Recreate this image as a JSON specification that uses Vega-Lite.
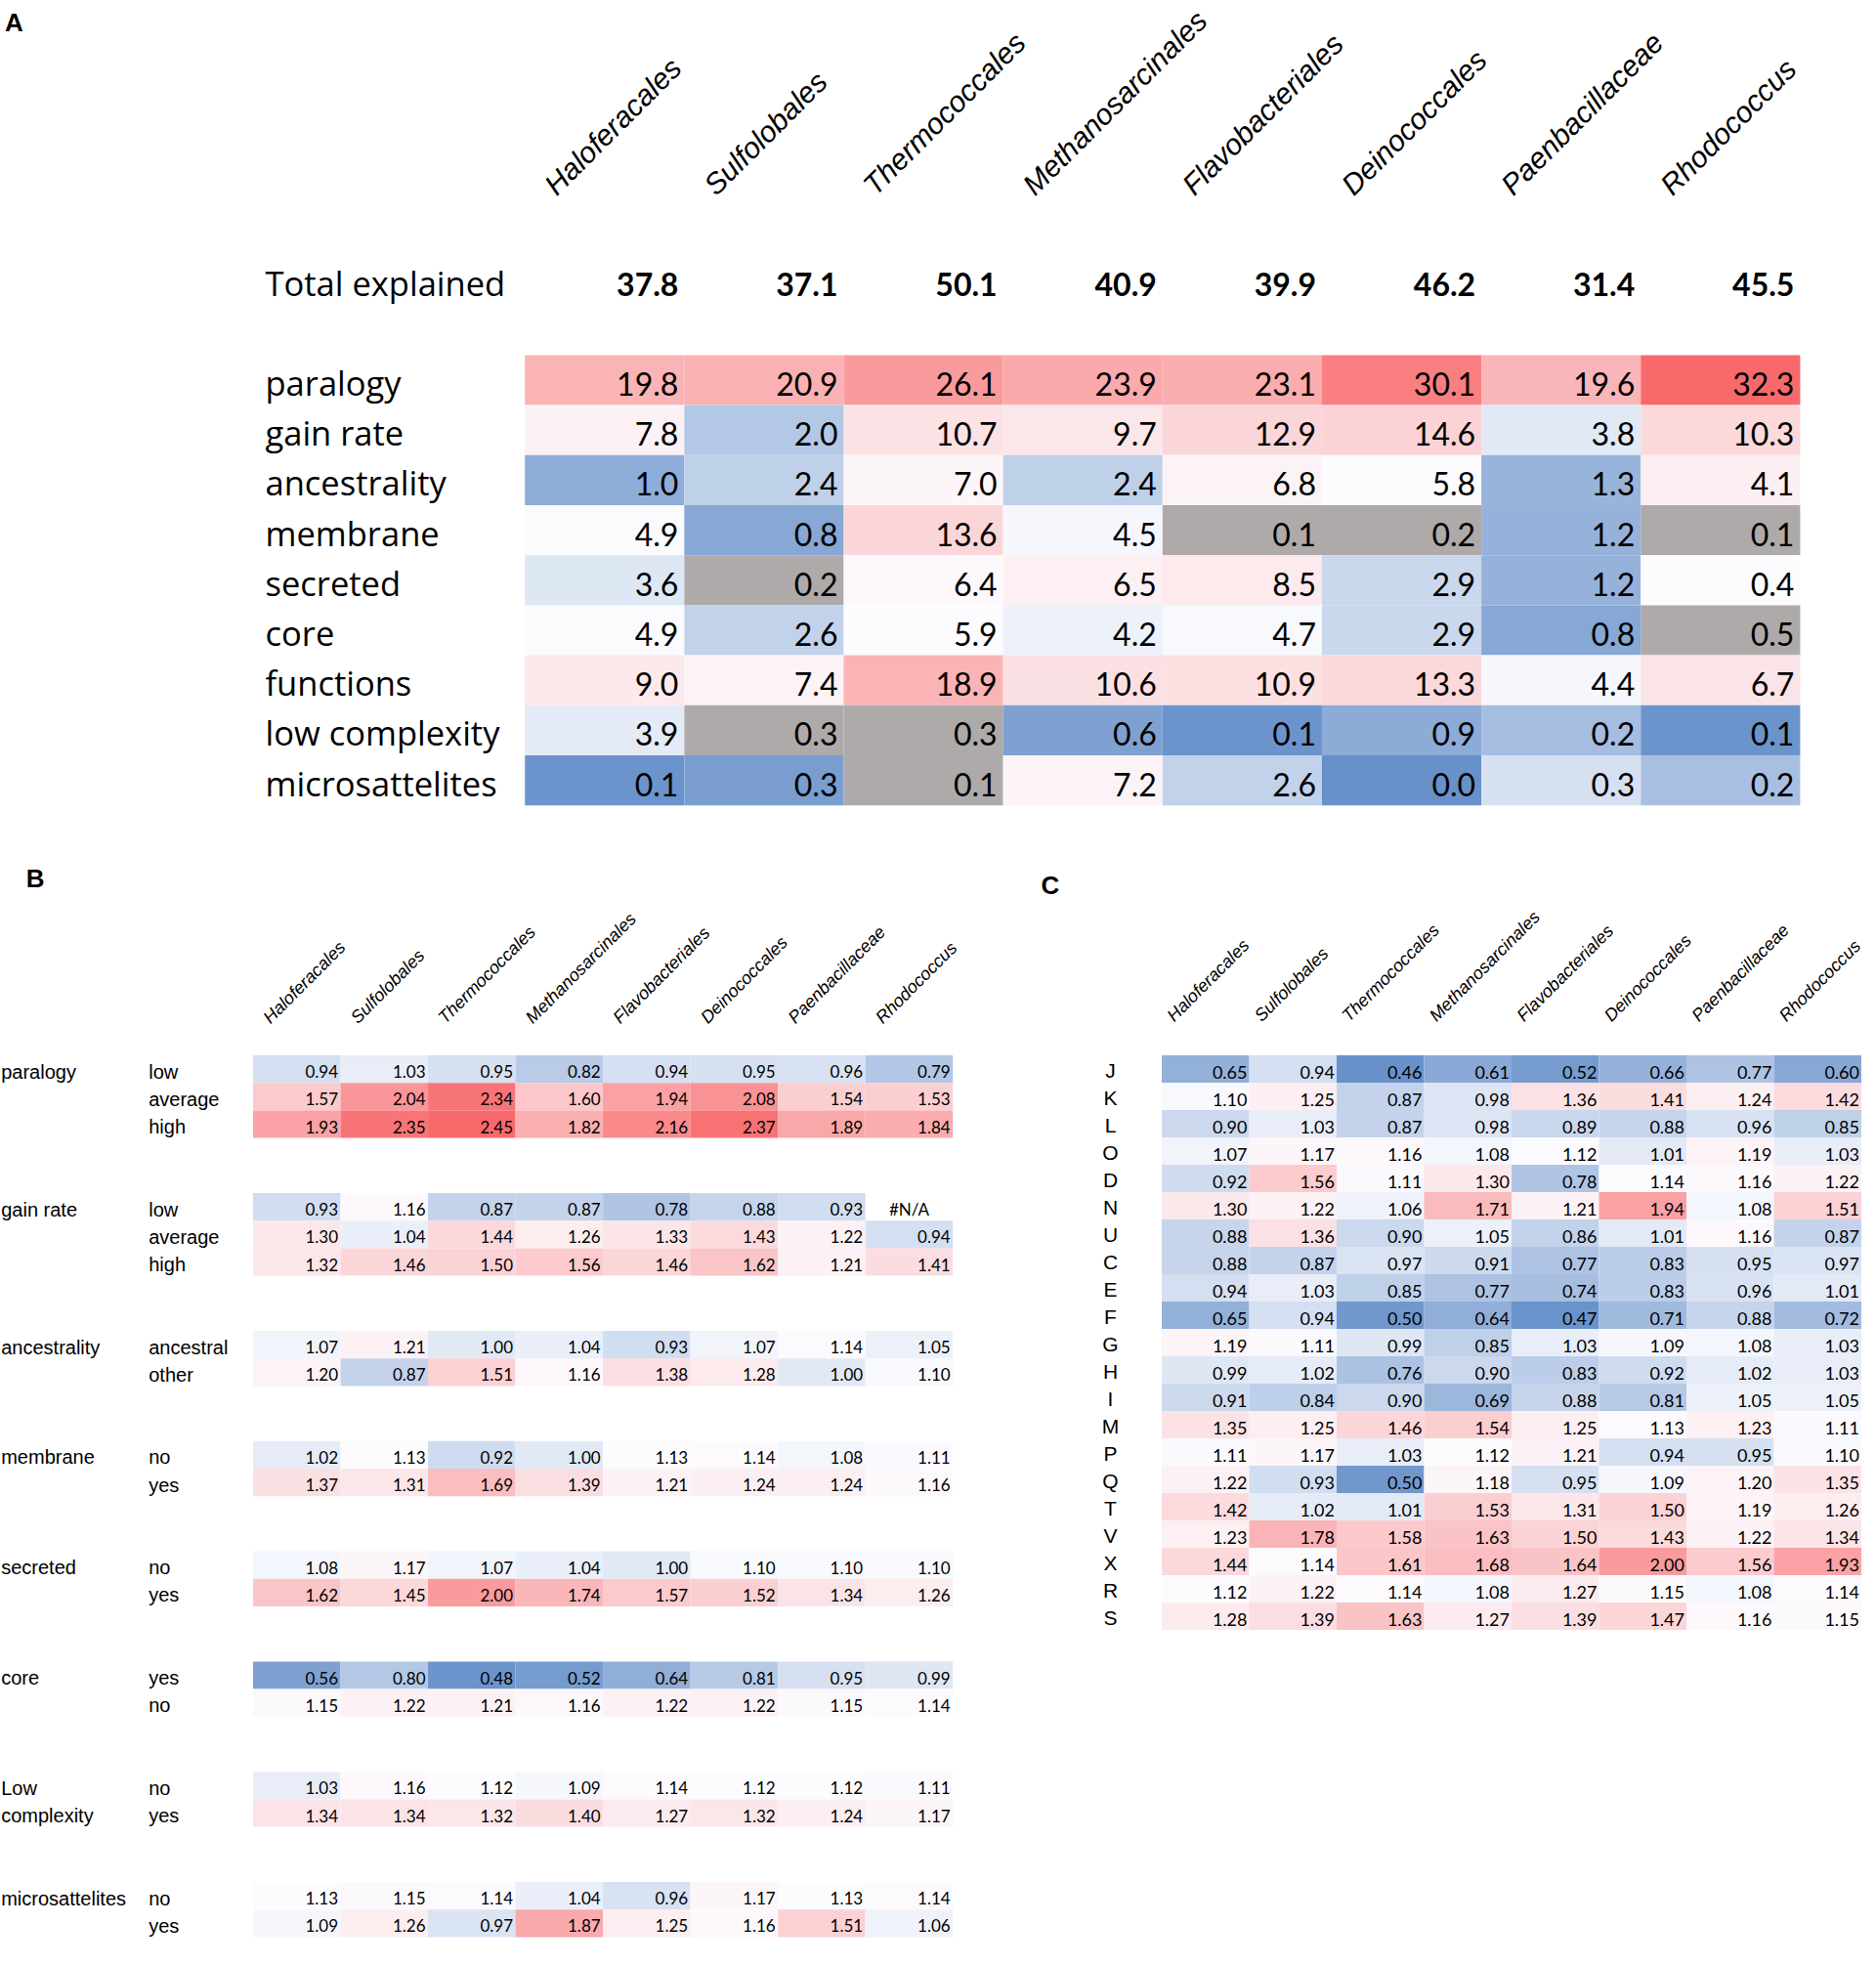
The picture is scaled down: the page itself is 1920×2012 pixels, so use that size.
{
"$schema":"https://vega.github.io/schema/vega-lite/v6.json",
"background":"white",
"padding":{"left":0,"top":5,"right":0,"bottom":0},
"spacing":61,
"resolve":{"scale":{"color":"independent"}},
"config":{"view":{"stroke":null},"axis":{"domain":false,"ticks":false,"grid":false,"labelColor":"#000000","titleColor":"#000000"}},
"datasets":{
"a":[
{"r":"Total explained","k":"Haloferacales","v":37.8,"c":0,"g":0},{"r":"Total explained","k":"Sulfolobales","v":37.1,"c":0,"g":0},{"r":"Total explained","k":"Thermococcales","v":50.1,"c":0,"g":0},{"r":"Total explained","k":"Methanosarcinales","v":40.9,"c":0,"g":0},{"r":"Total explained","k":"Flavobacteriales","v":39.9,"c":0,"g":0},{"r":"Total explained","k":"Deinococcales","v":46.2,"c":0,"g":0},{"r":"Total explained","k":"Paenbacillaceae","v":31.4,"c":0,"g":0},{"r":"Total explained","k":"Rhodococcus","v":45.5,"c":0,"g":0},
{"r":"paralogy","k":"Haloferacales","v":19.8,"c":0.49,"g":0},{"r":"paralogy","k":"Sulfolobales","v":20.9,"c":0.51,"g":0},{"r":"paralogy","k":"Thermococcales","v":26.1,"c":0.66,"g":0},{"r":"paralogy","k":"Methanosarcinales","v":23.9,"c":0.56,"g":0},{"r":"paralogy","k":"Flavobacteriales","v":23.1,"c":0.54,"g":0},{"r":"paralogy","k":"Deinococcales","v":30.1,"c":0.85,"g":0},{"r":"paralogy","k":"Paenbacillaceae","v":19.6,"c":0.48,"g":0},{"r":"paralogy","k":"Rhodococcus","v":32.3,"c":1,"g":0},
{"r":"gain rate","k":"Haloferacales","v":7.8,"c":0.07,"g":0},{"r":"gain rate","k":"Sulfolobales","v":2.0,"c":-0.49,"g":0},{"r":"gain rate","k":"Thermococcales","v":10.7,"c":0.18,"g":0},{"r":"gain rate","k":"Methanosarcinales","v":9.7,"c":0.15,"g":0},{"r":"gain rate","k":"Flavobacteriales","v":12.9,"c":0.26,"g":0},{"r":"gain rate","k":"Deinococcales","v":14.6,"c":0.28,"g":0},{"r":"gain rate","k":"Paenbacillaceae","v":3.8,"c":-0.18,"g":0},{"r":"gain rate","k":"Rhodococcus","v":10.3,"c":0.24,"g":0},
{"r":"ancestrality","k":"Haloferacales","v":1.0,"c":-0.74,"g":0},{"r":"ancestrality","k":"Sulfolobales","v":2.4,"c":-0.41,"g":0},{"r":"ancestrality","k":"Thermococcales","v":7.0,"c":0.04,"g":0},{"r":"ancestrality","k":"Methanosarcinales","v":2.4,"c":-0.41,"g":0},{"r":"ancestrality","k":"Flavobacteriales","v":6.8,"c":0.06,"g":0},{"r":"ancestrality","k":"Deinococcales","v":5.8,"c":0.01,"g":0},{"r":"ancestrality","k":"Paenbacillaceae","v":1.3,"c":-0.67,"g":0},{"r":"ancestrality","k":"Rhodococcus","v":4.1,"c":0.09,"g":0},
{"r":"membrane","k":"Haloferacales","v":4.9,"c":-0.01,"g":0},{"r":"membrane","k":"Sulfolobales","v":0.8,"c":-0.79,"g":0},{"r":"membrane","k":"Thermococcales","v":13.6,"c":0.26,"g":0},{"r":"membrane","k":"Methanosarcinales","v":4.5,"c":-0.05,"g":0},{"r":"membrane","k":"Flavobacteriales","v":0.1,"c":0,"g":1},{"r":"membrane","k":"Deinococcales","v":0.2,"c":0,"g":1},{"r":"membrane","k":"Paenbacillaceae","v":1.2,"c":-0.69,"g":0},{"r":"membrane","k":"Rhodococcus","v":0.1,"c":0,"g":1},
{"r":"secreted","k":"Haloferacales","v":3.6,"c":-0.2,"g":0},{"r":"secreted","k":"Sulfolobales","v":0.2,"c":0,"g":1},{"r":"secreted","k":"Thermococcales","v":6.4,"c":0.03,"g":0},{"r":"secreted","k":"Methanosarcinales","v":6.5,"c":0.08,"g":0},{"r":"secreted","k":"Flavobacteriales","v":8.5,"c":0.12,"g":0},{"r":"secreted","k":"Deinococcales","v":2.9,"c":-0.34,"g":0},{"r":"secreted","k":"Paenbacillaceae","v":1.2,"c":-0.69,"g":0},{"r":"secreted","k":"Rhodococcus","v":0.4,"c":0,"g":0},
{"r":"core","k":"Haloferacales","v":4.9,"c":-0.01,"g":0},{"r":"core","k":"Sulfolobales","v":2.6,"c":-0.39,"g":0},{"r":"core","k":"Thermococcales","v":5.9,"c":0.01,"g":0},{"r":"core","k":"Methanosarcinales","v":4.2,"c":-0.1,"g":0},{"r":"core","k":"Flavobacteriales","v":4.7,"c":-0.03,"g":0},{"r":"core","k":"Deinococcales","v":2.9,"c":-0.34,"g":0},{"r":"core","k":"Paenbacillaceae","v":0.8,"c":-0.79,"g":0},{"r":"core","k":"Rhodococcus","v":0.5,"c":0,"g":1},
{"r":"functions","k":"Haloferacales","v":9.0,"c":0.13,"g":0},{"r":"functions","k":"Sulfolobales","v":7.4,"c":0.06,"g":0},{"r":"functions","k":"Thermococcales","v":18.9,"c":0.49,"g":0},{"r":"functions","k":"Methanosarcinales","v":10.6,"c":0.19,"g":0},{"r":"functions","k":"Flavobacteriales","v":10.9,"c":0.2,"g":0},{"r":"functions","k":"Deinococcales","v":13.3,"c":0.24,"g":0},{"r":"functions","k":"Paenbacillaceae","v":4.4,"c":-0.05,"g":0},{"r":"functions","k":"Rhodococcus","v":6.7,"c":0.16,"g":0},
{"r":"low complexity","k":"Haloferacales","v":3.9,"c":-0.16,"g":0},{"r":"low complexity","k":"Sulfolobales","v":0.3,"c":0,"g":1},{"r":"low complexity","k":"Thermococcales","v":0.3,"c":0,"g":1},{"r":"low complexity","k":"Methanosarcinales","v":0.6,"c":-0.85,"g":0},{"r":"low complexity","k":"Flavobacteriales","v":0.1,"c":-0.97,"g":0},{"r":"low complexity","k":"Deinococcales","v":0.9,"c":-0.76,"g":0},{"r":"low complexity","k":"Paenbacillaceae","v":0.2,"c":-0.59,"g":0},{"r":"low complexity","k":"Rhodococcus","v":0.1,"c":-0.97,"g":0},
{"r":"microsattelites","k":"Haloferacales","v":0.1,"c":-0.97,"g":0},{"r":"microsattelites","k":"Sulfolobales","v":0.3,"c":-0.88,"g":0},{"r":"microsattelites","k":"Thermococcales","v":0.1,"c":0,"g":1},{"r":"microsattelites","k":"Methanosarcinales","v":7.2,"c":0.06,"g":0},{"r":"microsattelites","k":"Flavobacteriales","v":2.6,"c":-0.39,"g":0},{"r":"microsattelites","k":"Deinococcales","v":0.0,"c":-1,"g":0},{"r":"microsattelites","k":"Paenbacillaceae","v":0.3,"c":-0.26,"g":0},{"r":"microsattelites","k":"Rhodococcus","v":0.2,"c":-0.57,"g":0}
],
"b":[
{"r":"p1|low|paralogy","k":"Haloferacales","v":0.94},{"r":"p1|low|paralogy","k":"Sulfolobales","v":1.03},{"r":"p1|low|paralogy","k":"Thermococcales","v":0.95},{"r":"p1|low|paralogy","k":"Methanosarcinales","v":0.82},{"r":"p1|low|paralogy","k":"Flavobacteriales","v":0.94},{"r":"p1|low|paralogy","k":"Deinococcales","v":0.95},{"r":"p1|low|paralogy","k":"Paenbacillaceae","v":0.96},{"r":"p1|low|paralogy","k":"Rhodococcus","v":0.79},
{"r":"p2|average|","k":"Haloferacales","v":1.57},{"r":"p2|average|","k":"Sulfolobales","v":2.04},{"r":"p2|average|","k":"Thermococcales","v":2.34},{"r":"p2|average|","k":"Methanosarcinales","v":1.60},{"r":"p2|average|","k":"Flavobacteriales","v":1.94},{"r":"p2|average|","k":"Deinococcales","v":2.08},{"r":"p2|average|","k":"Paenbacillaceae","v":1.54},{"r":"p2|average|","k":"Rhodococcus","v":1.53},
{"r":"p3|high|","k":"Haloferacales","v":1.93},{"r":"p3|high|","k":"Sulfolobales","v":2.35},{"r":"p3|high|","k":"Thermococcales","v":2.45},{"r":"p3|high|","k":"Methanosarcinales","v":1.82},{"r":"p3|high|","k":"Flavobacteriales","v":2.16},{"r":"p3|high|","k":"Deinococcales","v":2.37},{"r":"p3|high|","k":"Paenbacillaceae","v":1.89},{"r":"p3|high|","k":"Rhodococcus","v":1.84},
{"r":"g1|low|gain rate","k":"Haloferacales","v":0.93},{"r":"g1|low|gain rate","k":"Sulfolobales","v":1.16},{"r":"g1|low|gain rate","k":"Thermococcales","v":0.87},{"r":"g1|low|gain rate","k":"Methanosarcinales","v":0.87},{"r":"g1|low|gain rate","k":"Flavobacteriales","v":0.78},{"r":"g1|low|gain rate","k":"Deinococcales","v":0.88},{"r":"g1|low|gain rate","k":"Paenbacillaceae","v":0.93},{"r":"g1|low|gain rate","k":"Rhodococcus","v":null},
{"r":"g2|average|","k":"Haloferacales","v":1.30},{"r":"g2|average|","k":"Sulfolobales","v":1.04},{"r":"g2|average|","k":"Thermococcales","v":1.44},{"r":"g2|average|","k":"Methanosarcinales","v":1.26},{"r":"g2|average|","k":"Flavobacteriales","v":1.33},{"r":"g2|average|","k":"Deinococcales","v":1.43},{"r":"g2|average|","k":"Paenbacillaceae","v":1.22},{"r":"g2|average|","k":"Rhodococcus","v":0.94},
{"r":"g3|high|","k":"Haloferacales","v":1.32},{"r":"g3|high|","k":"Sulfolobales","v":1.46},{"r":"g3|high|","k":"Thermococcales","v":1.50},{"r":"g3|high|","k":"Methanosarcinales","v":1.56},{"r":"g3|high|","k":"Flavobacteriales","v":1.46},{"r":"g3|high|","k":"Deinococcales","v":1.62},{"r":"g3|high|","k":"Paenbacillaceae","v":1.21},{"r":"g3|high|","k":"Rhodococcus","v":1.41},
{"r":"a1|ancestral|ancestrality","k":"Haloferacales","v":1.07},{"r":"a1|ancestral|ancestrality","k":"Sulfolobales","v":1.21},{"r":"a1|ancestral|ancestrality","k":"Thermococcales","v":1.00},{"r":"a1|ancestral|ancestrality","k":"Methanosarcinales","v":1.04},{"r":"a1|ancestral|ancestrality","k":"Flavobacteriales","v":0.93},{"r":"a1|ancestral|ancestrality","k":"Deinococcales","v":1.07},{"r":"a1|ancestral|ancestrality","k":"Paenbacillaceae","v":1.14},{"r":"a1|ancestral|ancestrality","k":"Rhodococcus","v":1.05},
{"r":"a2|other|","k":"Haloferacales","v":1.20},{"r":"a2|other|","k":"Sulfolobales","v":0.87},{"r":"a2|other|","k":"Thermococcales","v":1.51},{"r":"a2|other|","k":"Methanosarcinales","v":1.16},{"r":"a2|other|","k":"Flavobacteriales","v":1.38},{"r":"a2|other|","k":"Deinococcales","v":1.28},{"r":"a2|other|","k":"Paenbacillaceae","v":1.00},{"r":"a2|other|","k":"Rhodococcus","v":1.10},
{"r":"m1|no|membrane","k":"Haloferacales","v":1.02},{"r":"m1|no|membrane","k":"Sulfolobales","v":1.13},{"r":"m1|no|membrane","k":"Thermococcales","v":0.92},{"r":"m1|no|membrane","k":"Methanosarcinales","v":1.00},{"r":"m1|no|membrane","k":"Flavobacteriales","v":1.13},{"r":"m1|no|membrane","k":"Deinococcales","v":1.14},{"r":"m1|no|membrane","k":"Paenbacillaceae","v":1.08},{"r":"m1|no|membrane","k":"Rhodococcus","v":1.11},
{"r":"m2|yes|","k":"Haloferacales","v":1.37},{"r":"m2|yes|","k":"Sulfolobales","v":1.31},{"r":"m2|yes|","k":"Thermococcales","v":1.69},{"r":"m2|yes|","k":"Methanosarcinales","v":1.39},{"r":"m2|yes|","k":"Flavobacteriales","v":1.21},{"r":"m2|yes|","k":"Deinococcales","v":1.24},{"r":"m2|yes|","k":"Paenbacillaceae","v":1.24},{"r":"m2|yes|","k":"Rhodococcus","v":1.16},
{"r":"s1|no|secreted","k":"Haloferacales","v":1.08},{"r":"s1|no|secreted","k":"Sulfolobales","v":1.17},{"r":"s1|no|secreted","k":"Thermococcales","v":1.07},{"r":"s1|no|secreted","k":"Methanosarcinales","v":1.04},{"r":"s1|no|secreted","k":"Flavobacteriales","v":1.00},{"r":"s1|no|secreted","k":"Deinococcales","v":1.10},{"r":"s1|no|secreted","k":"Paenbacillaceae","v":1.10},{"r":"s1|no|secreted","k":"Rhodococcus","v":1.10},
{"r":"s2|yes|","k":"Haloferacales","v":1.62},{"r":"s2|yes|","k":"Sulfolobales","v":1.45},{"r":"s2|yes|","k":"Thermococcales","v":2.00},{"r":"s2|yes|","k":"Methanosarcinales","v":1.74},{"r":"s2|yes|","k":"Flavobacteriales","v":1.57},{"r":"s2|yes|","k":"Deinococcales","v":1.52},{"r":"s2|yes|","k":"Paenbacillaceae","v":1.34},{"r":"s2|yes|","k":"Rhodococcus","v":1.26},
{"r":"c1|yes|core","k":"Haloferacales","v":0.56},{"r":"c1|yes|core","k":"Sulfolobales","v":0.80},{"r":"c1|yes|core","k":"Thermococcales","v":0.48},{"r":"c1|yes|core","k":"Methanosarcinales","v":0.52},{"r":"c1|yes|core","k":"Flavobacteriales","v":0.64},{"r":"c1|yes|core","k":"Deinococcales","v":0.81},{"r":"c1|yes|core","k":"Paenbacillaceae","v":0.95},{"r":"c1|yes|core","k":"Rhodococcus","v":0.99},
{"r":"c2|no|","k":"Haloferacales","v":1.15},{"r":"c2|no|","k":"Sulfolobales","v":1.22},{"r":"c2|no|","k":"Thermococcales","v":1.21},{"r":"c2|no|","k":"Methanosarcinales","v":1.16},{"r":"c2|no|","k":"Flavobacteriales","v":1.22},{"r":"c2|no|","k":"Deinococcales","v":1.22},{"r":"c2|no|","k":"Paenbacillaceae","v":1.15},{"r":"c2|no|","k":"Rhodococcus","v":1.14},
{"r":"l1|no|Low","k":"Haloferacales","v":1.03},{"r":"l1|no|Low","k":"Sulfolobales","v":1.16},{"r":"l1|no|Low","k":"Thermococcales","v":1.12},{"r":"l1|no|Low","k":"Methanosarcinales","v":1.09},{"r":"l1|no|Low","k":"Flavobacteriales","v":1.14},{"r":"l1|no|Low","k":"Deinococcales","v":1.12},{"r":"l1|no|Low","k":"Paenbacillaceae","v":1.12},{"r":"l1|no|Low","k":"Rhodococcus","v":1.11},
{"r":"l2|yes|complexity","k":"Haloferacales","v":1.34},{"r":"l2|yes|complexity","k":"Sulfolobales","v":1.34},{"r":"l2|yes|complexity","k":"Thermococcales","v":1.32},{"r":"l2|yes|complexity","k":"Methanosarcinales","v":1.40},{"r":"l2|yes|complexity","k":"Flavobacteriales","v":1.27},{"r":"l2|yes|complexity","k":"Deinococcales","v":1.32},{"r":"l2|yes|complexity","k":"Paenbacillaceae","v":1.24},{"r":"l2|yes|complexity","k":"Rhodococcus","v":1.17},
{"r":"x1|no|microsattelites","k":"Haloferacales","v":1.13},{"r":"x1|no|microsattelites","k":"Sulfolobales","v":1.15},{"r":"x1|no|microsattelites","k":"Thermococcales","v":1.14},{"r":"x1|no|microsattelites","k":"Methanosarcinales","v":1.04},{"r":"x1|no|microsattelites","k":"Flavobacteriales","v":0.96},{"r":"x1|no|microsattelites","k":"Deinococcales","v":1.17},{"r":"x1|no|microsattelites","k":"Paenbacillaceae","v":1.13},{"r":"x1|no|microsattelites","k":"Rhodococcus","v":1.14},
{"r":"x2|yes|","k":"Haloferacales","v":1.09},{"r":"x2|yes|","k":"Sulfolobales","v":1.26},{"r":"x2|yes|","k":"Thermococcales","v":0.97},{"r":"x2|yes|","k":"Methanosarcinales","v":1.87},{"r":"x2|yes|","k":"Flavobacteriales","v":1.25},{"r":"x2|yes|","k":"Deinococcales","v":1.16},{"r":"x2|yes|","k":"Paenbacillaceae","v":1.51},{"r":"x2|yes|","k":"Rhodococcus","v":1.06}
],
"c":[
{"r":"J","k":"Haloferacales","v":0.65},{"r":"J","k":"Sulfolobales","v":0.94},{"r":"J","k":"Thermococcales","v":0.46},{"r":"J","k":"Methanosarcinales","v":0.61},{"r":"J","k":"Flavobacteriales","v":0.52},{"r":"J","k":"Deinococcales","v":0.66},{"r":"J","k":"Paenbacillaceae","v":0.77},{"r":"J","k":"Rhodococcus","v":0.60},
{"r":"K","k":"Haloferacales","v":1.10},{"r":"K","k":"Sulfolobales","v":1.25},{"r":"K","k":"Thermococcales","v":0.87},{"r":"K","k":"Methanosarcinales","v":0.98},{"r":"K","k":"Flavobacteriales","v":1.36},{"r":"K","k":"Deinococcales","v":1.41},{"r":"K","k":"Paenbacillaceae","v":1.24},{"r":"K","k":"Rhodococcus","v":1.42},
{"r":"L","k":"Haloferacales","v":0.90},{"r":"L","k":"Sulfolobales","v":1.03},{"r":"L","k":"Thermococcales","v":0.87},{"r":"L","k":"Methanosarcinales","v":0.98},{"r":"L","k":"Flavobacteriales","v":0.89},{"r":"L","k":"Deinococcales","v":0.88},{"r":"L","k":"Paenbacillaceae","v":0.96},{"r":"L","k":"Rhodococcus","v":0.85},
{"r":"O","k":"Haloferacales","v":1.07},{"r":"O","k":"Sulfolobales","v":1.17},{"r":"O","k":"Thermococcales","v":1.16},{"r":"O","k":"Methanosarcinales","v":1.08},{"r":"O","k":"Flavobacteriales","v":1.12},{"r":"O","k":"Deinococcales","v":1.01},{"r":"O","k":"Paenbacillaceae","v":1.19},{"r":"O","k":"Rhodococcus","v":1.03},
{"r":"D","k":"Haloferacales","v":0.92},{"r":"D","k":"Sulfolobales","v":1.56},{"r":"D","k":"Thermococcales","v":1.11},{"r":"D","k":"Methanosarcinales","v":1.30},{"r":"D","k":"Flavobacteriales","v":0.78},{"r":"D","k":"Deinococcales","v":1.14},{"r":"D","k":"Paenbacillaceae","v":1.16},{"r":"D","k":"Rhodococcus","v":1.22},
{"r":"N","k":"Haloferacales","v":1.30},{"r":"N","k":"Sulfolobales","v":1.22},{"r":"N","k":"Thermococcales","v":1.06},{"r":"N","k":"Methanosarcinales","v":1.71},{"r":"N","k":"Flavobacteriales","v":1.21},{"r":"N","k":"Deinococcales","v":1.94},{"r":"N","k":"Paenbacillaceae","v":1.08},{"r":"N","k":"Rhodococcus","v":1.51},
{"r":"U","k":"Haloferacales","v":0.88},{"r":"U","k":"Sulfolobales","v":1.36},{"r":"U","k":"Thermococcales","v":0.90},{"r":"U","k":"Methanosarcinales","v":1.05},{"r":"U","k":"Flavobacteriales","v":0.86},{"r":"U","k":"Deinococcales","v":1.01},{"r":"U","k":"Paenbacillaceae","v":1.16},{"r":"U","k":"Rhodococcus","v":0.87},
{"r":"C","k":"Haloferacales","v":0.88},{"r":"C","k":"Sulfolobales","v":0.87},{"r":"C","k":"Thermococcales","v":0.97},{"r":"C","k":"Methanosarcinales","v":0.91},{"r":"C","k":"Flavobacteriales","v":0.77},{"r":"C","k":"Deinococcales","v":0.83},{"r":"C","k":"Paenbacillaceae","v":0.95},{"r":"C","k":"Rhodococcus","v":0.97},
{"r":"E","k":"Haloferacales","v":0.94},{"r":"E","k":"Sulfolobales","v":1.03},{"r":"E","k":"Thermococcales","v":0.85},{"r":"E","k":"Methanosarcinales","v":0.77},{"r":"E","k":"Flavobacteriales","v":0.74},{"r":"E","k":"Deinococcales","v":0.83},{"r":"E","k":"Paenbacillaceae","v":0.96},{"r":"E","k":"Rhodococcus","v":1.01},
{"r":"F","k":"Haloferacales","v":0.65},{"r":"F","k":"Sulfolobales","v":0.94},{"r":"F","k":"Thermococcales","v":0.50},{"r":"F","k":"Methanosarcinales","v":0.64},{"r":"F","k":"Flavobacteriales","v":0.47},{"r":"F","k":"Deinococcales","v":0.71},{"r":"F","k":"Paenbacillaceae","v":0.88},{"r":"F","k":"Rhodococcus","v":0.72},
{"r":"G","k":"Haloferacales","v":1.19},{"r":"G","k":"Sulfolobales","v":1.11},{"r":"G","k":"Thermococcales","v":0.99},{"r":"G","k":"Methanosarcinales","v":0.85},{"r":"G","k":"Flavobacteriales","v":1.03},{"r":"G","k":"Deinococcales","v":1.09},{"r":"G","k":"Paenbacillaceae","v":1.08},{"r":"G","k":"Rhodococcus","v":1.03},
{"r":"H","k":"Haloferacales","v":0.99},{"r":"H","k":"Sulfolobales","v":1.02},{"r":"H","k":"Thermococcales","v":0.76},{"r":"H","k":"Methanosarcinales","v":0.90},{"r":"H","k":"Flavobacteriales","v":0.83},{"r":"H","k":"Deinococcales","v":0.92},{"r":"H","k":"Paenbacillaceae","v":1.02},{"r":"H","k":"Rhodococcus","v":1.03},
{"r":"I","k":"Haloferacales","v":0.91},{"r":"I","k":"Sulfolobales","v":0.84},{"r":"I","k":"Thermococcales","v":0.90},{"r":"I","k":"Methanosarcinales","v":0.69},{"r":"I","k":"Flavobacteriales","v":0.88},{"r":"I","k":"Deinococcales","v":0.81},{"r":"I","k":"Paenbacillaceae","v":1.05},{"r":"I","k":"Rhodococcus","v":1.05},
{"r":"M","k":"Haloferacales","v":1.35},{"r":"M","k":"Sulfolobales","v":1.25},{"r":"M","k":"Thermococcales","v":1.46},{"r":"M","k":"Methanosarcinales","v":1.54},{"r":"M","k":"Flavobacteriales","v":1.25},{"r":"M","k":"Deinococcales","v":1.13},{"r":"M","k":"Paenbacillaceae","v":1.23},{"r":"M","k":"Rhodococcus","v":1.11},
{"r":"P","k":"Haloferacales","v":1.11},{"r":"P","k":"Sulfolobales","v":1.17},{"r":"P","k":"Thermococcales","v":1.03},{"r":"P","k":"Methanosarcinales","v":1.12},{"r":"P","k":"Flavobacteriales","v":1.21},{"r":"P","k":"Deinococcales","v":0.94},{"r":"P","k":"Paenbacillaceae","v":0.95},{"r":"P","k":"Rhodococcus","v":1.10},
{"r":"Q","k":"Haloferacales","v":1.22},{"r":"Q","k":"Sulfolobales","v":0.93},{"r":"Q","k":"Thermococcales","v":0.50},{"r":"Q","k":"Methanosarcinales","v":1.18},{"r":"Q","k":"Flavobacteriales","v":0.95},{"r":"Q","k":"Deinococcales","v":1.09},{"r":"Q","k":"Paenbacillaceae","v":1.20},{"r":"Q","k":"Rhodococcus","v":1.35},
{"r":"T","k":"Haloferacales","v":1.42},{"r":"T","k":"Sulfolobales","v":1.02},{"r":"T","k":"Thermococcales","v":1.01},{"r":"T","k":"Methanosarcinales","v":1.53},{"r":"T","k":"Flavobacteriales","v":1.31},{"r":"T","k":"Deinococcales","v":1.50},{"r":"T","k":"Paenbacillaceae","v":1.19},{"r":"T","k":"Rhodococcus","v":1.26},
{"r":"V","k":"Haloferacales","v":1.23},{"r":"V","k":"Sulfolobales","v":1.78},{"r":"V","k":"Thermococcales","v":1.58},{"r":"V","k":"Methanosarcinales","v":1.63},{"r":"V","k":"Flavobacteriales","v":1.50},{"r":"V","k":"Deinococcales","v":1.43},{"r":"V","k":"Paenbacillaceae","v":1.22},{"r":"V","k":"Rhodococcus","v":1.34},
{"r":"X","k":"Haloferacales","v":1.44},{"r":"X","k":"Sulfolobales","v":1.14},{"r":"X","k":"Thermococcales","v":1.61},{"r":"X","k":"Methanosarcinales","v":1.68},{"r":"X","k":"Flavobacteriales","v":1.64},{"r":"X","k":"Deinococcales","v":2.00},{"r":"X","k":"Paenbacillaceae","v":1.56},{"r":"X","k":"Rhodococcus","v":1.93},
{"r":"R","k":"Haloferacales","v":1.12},{"r":"R","k":"Sulfolobales","v":1.22},{"r":"R","k":"Thermococcales","v":1.14},{"r":"R","k":"Methanosarcinales","v":1.08},{"r":"R","k":"Flavobacteriales","v":1.27},{"r":"R","k":"Deinococcales","v":1.15},{"r":"R","k":"Paenbacillaceae","v":1.08},{"r":"R","k":"Rhodococcus","v":1.14},
{"r":"S","k":"Haloferacales","v":1.28},{"r":"S","k":"Sulfolobales","v":1.39},{"r":"S","k":"Thermococcales","v":1.63},{"r":"S","k":"Methanosarcinales","v":1.27},{"r":"S","k":"Flavobacteriales","v":1.39},{"r":"S","k":"Deinococcales","v":1.47},{"r":"S","k":"Paenbacillaceae","v":1.16},{"r":"S","k":"Rhodococcus","v":1.15}
]
},
"vconcat":[
{
"width":1583.4,"height":563.2,
"data":{"name":"a"},
"layer":[
{"transform":[{"filter":"datum.r !== 'Total explained'"}],
 "mark":{"type":"rect"},
 "encoding":{
  "x":{"field":"k","type":"nominal","scale":{"domain":["Haloferacales","Sulfolobales","Thermococcales","Methanosarcinales","Flavobacteriales","Deinococcales","Paenbacillaceae","Rhodococcus"],"paddingInner":0,"paddingOuter":0.8526,"align":1},
   "axis":{"orient":"top","title":null,"labelAngle":-45,"labelAlign":"left","labelBaseline":"alphabetic","labelPadding":60,"labelOffset":-49,"labelFont":"Liberation Sans","labelFontStyle":"italic","labelFontSize":30,"labelLimit":600,"labelOverlap":false}},
  "y":{"field":"r","type":"nominal","scale":{"domain":["Total explained"," ","paralogy","gain rate","ancestrality","membrane","secreted","core","functions","low complexity","microsattelites"],"paddingInner":0,"paddingOuter":0},
   "axis":{"title":"A","titleAngle":0,"titleX":-245,"titleY":-238,"titleAlign":"center","titleBaseline":"middle","titleFont":"Liberation Sans","titleFontSize":26,"titleFontWeight":"bold","labelAlign":"left","labelPadding":-12,"labelBaseline":"alphabetic","labelOffset":16,"labelFont":"Open Sans","labelFontSize":34.5,"labelLimit":600,"labelOverlap":false}},
  "color":{"condition":{"test":"datum.g === 1","value":"#AEAAAA"},"field":"c","type":"quantitative","scale":{"domain":[-1,0,1],"range":["#6891CA","#FCFCFF","#F8696B"],"interpolate":"rgb"},"legend":null}
 }},
{"transform":[{"filter":"datum.r !== 'Total explained'"}],
 "mark":{"type":"text","align":"right","baseline":"alphabetic","dx":-6,"dy":16,"font":"Lato","fontSize":32,"color":"#000000"},
 "encoding":{
  "x":{"field":"k","type":"nominal","bandPosition":1,"scale":{"domain":["Haloferacales","Sulfolobales","Thermococcales","Methanosarcinales","Flavobacteriales","Deinococcales","Paenbacillaceae","Rhodococcus"],"paddingInner":0,"paddingOuter":0.8526,"align":1},
   "axis":{"orient":"top","title":null,"labelAngle":-45,"labelAlign":"left","labelBaseline":"alphabetic","labelPadding":60,"labelOffset":-49,"labelFont":"Liberation Sans","labelFontStyle":"italic","labelFontSize":30,"labelLimit":600,"labelOverlap":false}},
  "y":{"field":"r","type":"nominal","scale":{"domain":["Total explained"," ","paralogy","gain rate","ancestrality","membrane","secreted","core","functions","low complexity","microsattelites"],"paddingInner":0,"paddingOuter":0},
   "axis":{"title":"A","titleAngle":0,"titleX":-245,"titleY":-238,"titleAlign":"center","titleBaseline":"middle","titleFont":"Liberation Sans","titleFontSize":26,"titleFontWeight":"bold","labelAlign":"left","labelPadding":-12,"labelBaseline":"alphabetic","labelOffset":16,"labelFont":"Open Sans","labelFontSize":34.5,"labelLimit":600,"labelOverlap":false}},
  "text":{"field":"v","type":"quantitative","format":".1f"}}},
{"transform":[{"filter":"datum.r === 'Total explained'"}],
 "mark":{"type":"text","align":"right","baseline":"alphabetic","dx":-6,"dy":16,"font":"Lato","fontSize":32,"fontWeight":"bold","color":"#000000"},
 "encoding":{
  "x":{"field":"k","type":"nominal","bandPosition":1,"scale":{"domain":["Haloferacales","Sulfolobales","Thermococcales","Methanosarcinales","Flavobacteriales","Deinococcales","Paenbacillaceae","Rhodococcus"],"paddingInner":0,"paddingOuter":0.8526,"align":1},
   "axis":{"orient":"top","title":null,"labelAngle":-45,"labelAlign":"left","labelBaseline":"alphabetic","labelPadding":60,"labelOffset":-49,"labelFont":"Liberation Sans","labelFontStyle":"italic","labelFontSize":30,"labelLimit":600,"labelOverlap":false}},
  "y":{"field":"r","type":"nominal","scale":{"domain":["Total explained"," ","paralogy","gain rate","ancestrality","membrane","secreted","core","functions","low complexity","microsattelites"],"paddingInner":0,"paddingOuter":0},
   "axis":{"title":"A","titleAngle":0,"titleX":-245,"titleY":-238,"titleAlign":"center","titleBaseline":"middle","titleFont":"Liberation Sans","titleFontSize":26,"titleFontWeight":"bold","labelAlign":"left","labelPadding":-12,"labelBaseline":"alphabetic","labelOffset":16,"labelFont":"Open Sans","labelFontSize":34.5,"labelLimit":600,"labelOverlap":false}},
  "text":{"field":"v","type":"quantitative","format":".1f"}}}
]
},
{
"spacing":82,
"resolve":{"scale":{"color":"independent"}},
"hconcat":[
{
"width":716.2,"height":902.4,
"data":{"name":"b"},
"resolve":{"axis":{"y":"independent"}},
"layer":[
{"transform":[{"filter":"datum.v !== null"}],
 "mark":{"type":"rect"},
 "encoding":{
  "x":{"field":"k","type":"nominal","scale":{"domain":["Haloferacales","Sulfolobales","Thermococcales","Methanosarcinales","Flavobacteriales","Deinococcales","Paenbacillaceae","Rhodococcus"],"paddingInner":0,"paddingOuter":0},
   "axis":{"orient":"top","title":null,"labelAngle":-45,"labelAlign":"left","labelBaseline":"alphabetic","labelPadding":32,"labelOffset":-27,"labelFont":"Liberation Sans","labelFontStyle":"italic","labelFontSize":18,"labelLimit":400,"labelOverlap":false}},
  "y":{"field":"r","type":"nominal","scale":{"domain":["p1|low|paralogy","p2|average|","p3|high|","e1||","e2||","g1|low|gain rate","g2|average|","g3|high|","e3||","e4||","a1|ancestral|ancestrality","a2|other|","e5||","e6||","m1|no|membrane","m2|yes|","e7||","e8||","s1|no|secreted","s2|yes|","e9||","e10||","c1|yes|core","c2|no|","e11||","e12||","l1|no|Low","l2|yes|complexity","e13||","e14||","x1|no|microsattelites","x2|yes|"],"paddingInner":0,"paddingOuter":0},
   "axis":{"orient":"left","title":"B","titleAngle":0,"titleX":-223.3,"titleY":-181,"titleAlign":"center","titleBaseline":"middle","titleFont":"Liberation Sans","titleFontSize":26,"titleFontWeight":"bold","labelExpr":"split(datum.value,'|')[1]","labelAlign":"left","labelPadding":107.3,"labelBaseline":"alphabetic","labelOffset":9.5,"labelFont":"Liberation Sans","labelFontSize":20,"labelLimit":300,"labelOverlap":false}},
  "color":{"field":"v","type":"quantitative","scale":{"domain":[0.46,1.12,2.45],"range":["#6891CA","#FCFCFF","#F8696B"],"interpolate":"rgb"},"legend":null}
 }},
{"transform":[{"filter":"datum.v !== null"}],
 "mark":{"type":"text","align":"right","baseline":"alphabetic","dx":-2.5,"dy":9,"font":"Lato","fontSize":17,"color":"#000000"},
 "encoding":{
  "x":{"field":"k","type":"nominal","bandPosition":1,"scale":{"domain":["Haloferacales","Sulfolobales","Thermococcales","Methanosarcinales","Flavobacteriales","Deinococcales","Paenbacillaceae","Rhodococcus"],"paddingInner":0,"paddingOuter":0},
   "axis":{"orient":"top","title":null,"labelAngle":-45,"labelAlign":"left","labelBaseline":"alphabetic","labelPadding":32,"labelOffset":-27,"labelFont":"Liberation Sans","labelFontStyle":"italic","labelFontSize":18,"labelLimit":400,"labelOverlap":false}},
  "y":{"field":"r","type":"nominal","axis":{"orient":"left","title":null,"labelExpr":"split(datum.value,'|')[2]","labelAlign":"left","labelPadding":258.3,"labelBaseline":"alphabetic","labelOffset":9.5,"labelFont":"Liberation Sans","labelFontSize":20,"labelLimit":300,"labelOverlap":false}},
  "text":{"field":"v","type":"quantitative","format":".2f"}}},
{"transform":[{"filter":"datum.v === null"}],
 "mark":{"type":"text","align":"center","baseline":"alphabetic","dy":9,"font":"Lato","fontSize":17,"color":"#000000","text":"#N/A"},
 "encoding":{
  "x":{"field":"k","type":"nominal","scale":{"domain":["Haloferacales","Sulfolobales","Thermococcales","Methanosarcinales","Flavobacteriales","Deinococcales","Paenbacillaceae","Rhodococcus"],"paddingInner":0,"paddingOuter":0},
   "axis":{"orient":"top","title":null,"labelAngle":-45,"labelAlign":"left","labelBaseline":"alphabetic","labelPadding":32,"labelOffset":-27,"labelFont":"Liberation Sans","labelFontStyle":"italic","labelFontSize":18,"labelLimit":400,"labelOverlap":false}},
  "y":{"field":"r","type":"nominal","axis":null}}}
]
},
{
"width":716,"height":588,
"data":{"name":"c"},
"layer":[
{"mark":{"type":"rect"},
 "encoding":{
  "x":{"field":"k","type":"nominal","scale":{"domain":["Haloferacales","Sulfolobales","Thermococcales","Methanosarcinales","Flavobacteriales","Deinococcales","Paenbacillaceae","Rhodococcus"],"paddingInner":0,"paddingOuter":0},
   "axis":{"orient":"top","title":null,"labelAngle":-45,"labelAlign":"left","labelBaseline":"alphabetic","labelPadding":34,"labelOffset":-32,"labelFont":"Liberation Sans","labelFontStyle":"italic","labelFontSize":18,"labelLimit":400,"labelOverlap":false}},
  "y":{"field":"r","type":"nominal","scale":{"domain":["J","K","L","O","D","N","U","C","E","F","G","H","I","M","P","Q","T","V","X","R","S"],"paddingInner":0,"paddingOuter":0},
   "axis":{"orient":"left","title":"C","titleAngle":0,"titleX":-114.5,"titleY":-174,"titleAlign":"center","titleBaseline":"middle","titleFont":"Liberation Sans","titleFontSize":26,"titleFontWeight":"bold","labelAlign":"center","labelPadding":53,"labelBaseline":"alphabetic","labelOffset":9,"labelFont":"Liberation Sans","labelFontSize":21,"labelOverlap":false}},
  "color":{"field":"v","type":"quantitative","scale":{"domain":[0.46,1.12,2.45],"range":["#6891CA","#FCFCFF","#F8696B"],"interpolate":"rgb"},"legend":null}
 }},
{"mark":{"type":"text","align":"right","baseline":"alphabetic","dx":-2,"dy":10,"font":"Lato","fontSize":18,"color":"#000000"},
 "encoding":{
  "x":{"field":"k","type":"nominal","bandPosition":1,"scale":{"domain":["Haloferacales","Sulfolobales","Thermococcales","Methanosarcinales","Flavobacteriales","Deinococcales","Paenbacillaceae","Rhodococcus"],"paddingInner":0,"paddingOuter":0},
   "axis":{"orient":"top","title":null,"labelAngle":-45,"labelAlign":"left","labelBaseline":"alphabetic","labelPadding":34,"labelOffset":-32,"labelFont":"Liberation Sans","labelFontStyle":"italic","labelFontSize":18,"labelLimit":400,"labelOverlap":false}},
  "y":{"field":"r","type":"nominal","scale":{"domain":["J","K","L","O","D","N","U","C","E","F","G","H","I","M","P","Q","T","V","X","R","S"],"paddingInner":0,"paddingOuter":0},
   "axis":{"orient":"left","title":"C","titleAngle":0,"titleX":-114.5,"titleY":-174,"titleAlign":"center","titleBaseline":"middle","titleFont":"Liberation Sans","titleFontSize":26,"titleFontWeight":"bold","labelAlign":"center","labelPadding":53,"labelBaseline":"alphabetic","labelOffset":9,"labelFont":"Liberation Sans","labelFontSize":21,"labelOverlap":false}},
  "text":{"field":"v","type":"quantitative","format":".2f"}}}
]
}
]
}
]
}
